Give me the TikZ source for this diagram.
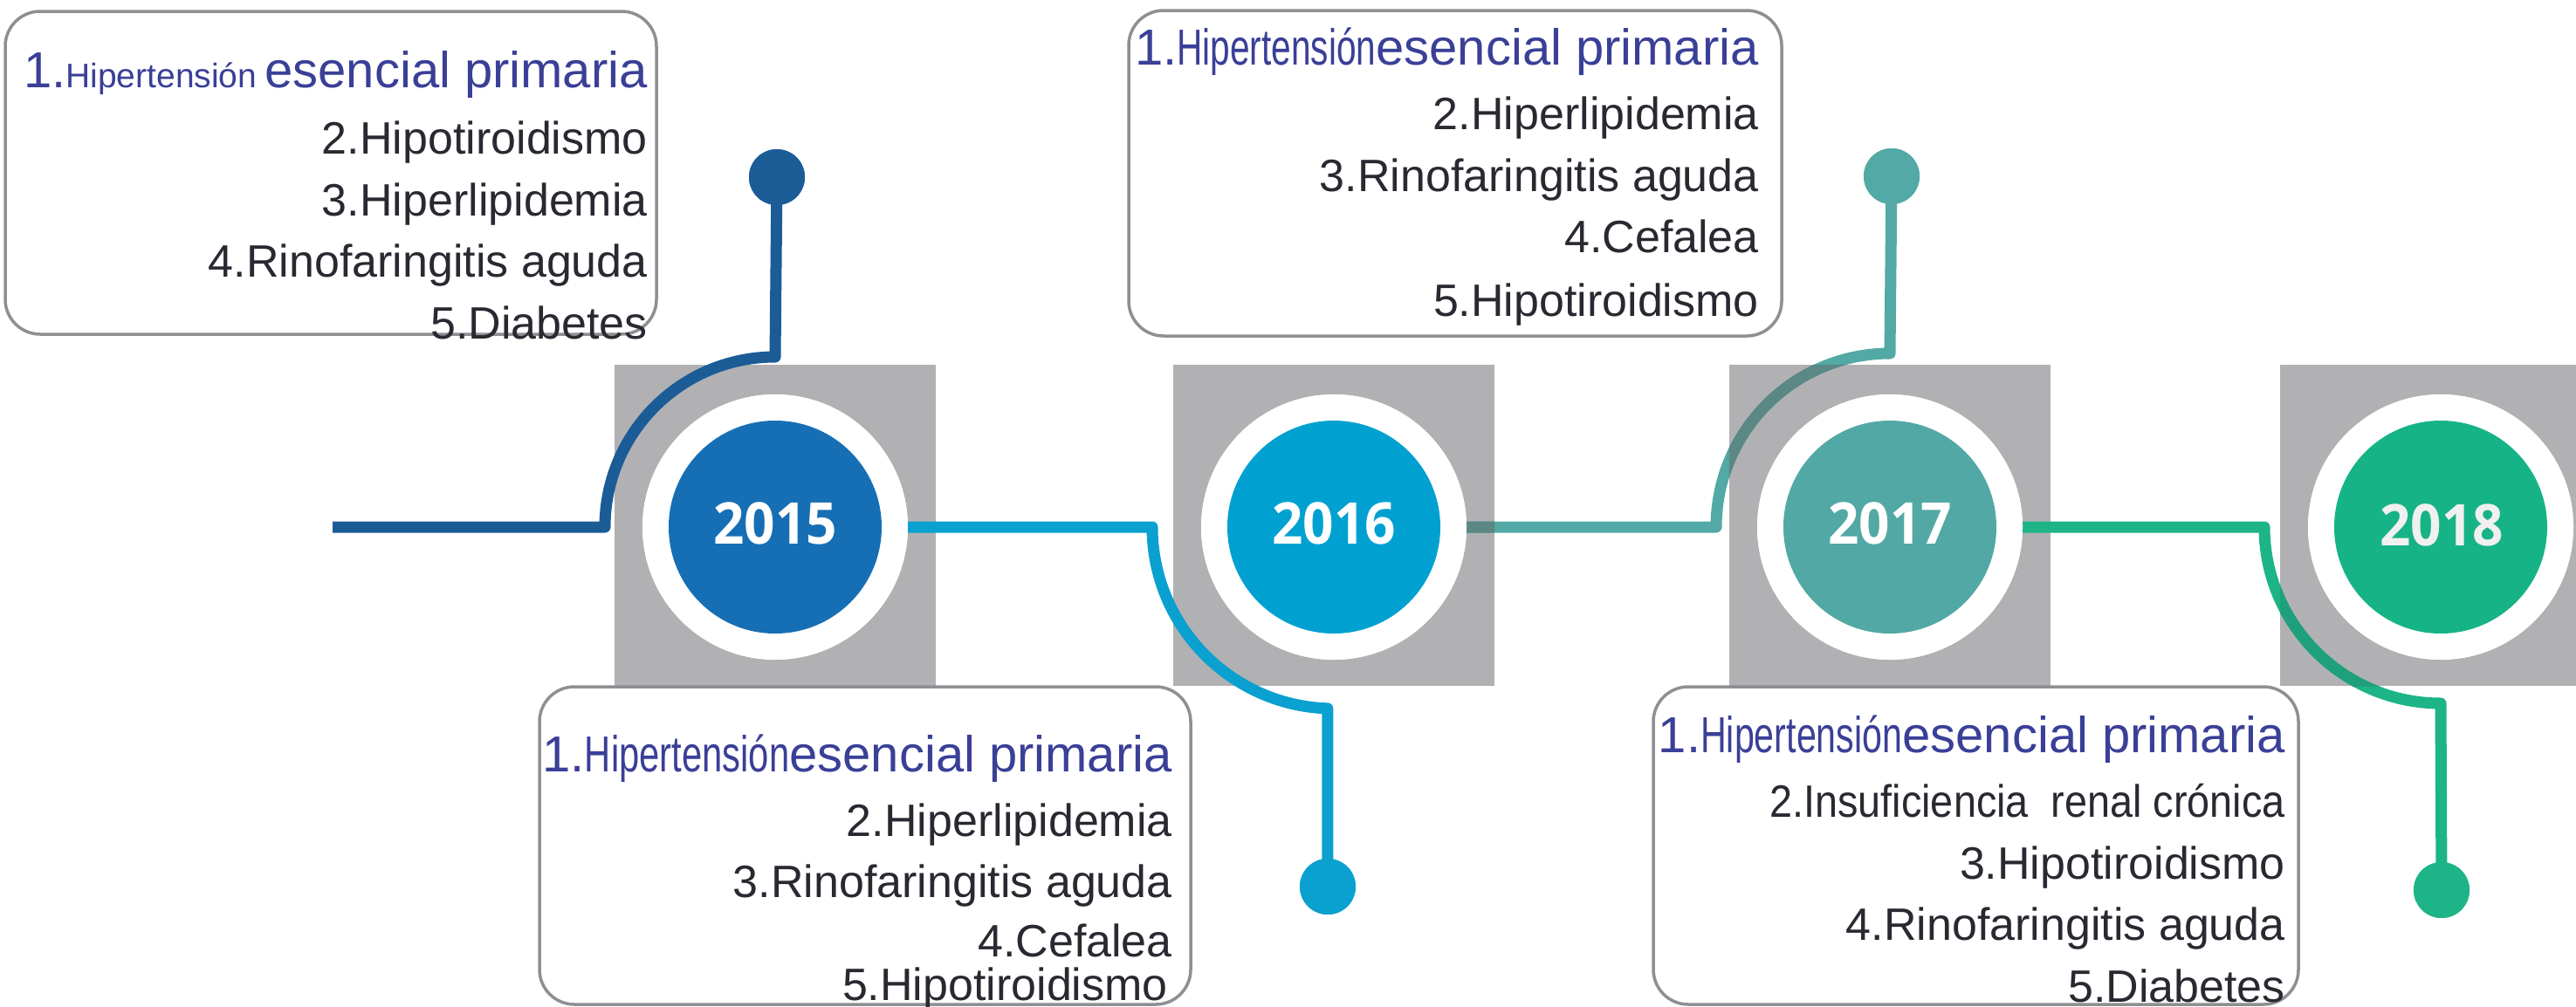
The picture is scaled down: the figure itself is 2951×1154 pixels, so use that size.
\documentclass[tikz,border=0pt]{standalone}
\usepackage{fontspec}
\setmainfont{Liberation Sans}
\newfontfamily\yearfont{Open Sans}
\usepackage{graphicx}
\usetikzlibrary{calc}
\definecolor{txtdark}{HTML}{2A2830}
\definecolor{txtblue}{HTML}{3A3F97}
\definecolor{boxgray}{HTML}{8F8F93}
\definecolor{sqgray}{HTML}{B1B1B3}
\definecolor{in15}{HTML}{166FB5}
\definecolor{in16}{HTML}{00A1D1}
\definecolor{in17}{HTML}{52A8A4}
\definecolor{in18}{HTML}{16B386}
\definecolor{con1}{HTML}{1B5C97}
\definecolor{con2}{HTML}{0AA0D0}
\definecolor{con3}{HTML}{53A9A5}
\definecolor{con3dark}{HTML}{5B8785}
\definecolor{con4}{HTML}{1DB487}
\definecolor{con4dark}{HTML}{1FA07D}
\begin{document}
\begin{tikzpicture}[x=1pt,y=-1pt,
  sq/.style={rectangle,fill=sqgray,draw=none,minimum size=368pt,inner sep=0pt},
  ring/.style={circle,fill=white,draw=none,minimum size=304pt,inner sep=0pt},
  inner/.style={circle,draw=none,minimum size=244pt,inner sep=0pt},
  yr/.style={anchor=base,inner sep=0pt,text=white,font=\yearfont\bfseries\fontsize{66}{66}\selectfont},
  dot/.style={circle,draw=none,minimum size=64pt,inner sep=0pt},
  con/.style={line width=13pt,line join=round},
  infobox/.style={rectangle,draw=boxgray,line width=3.5pt,rounded corners=40pt,fill=white,inner sep=0pt},
  txt/.style={anchor=base east,inner sep=0pt,text=txtdark,font=\fontsize{52}{52}\selectfont},
  txtb/.style={anchor=base east,inner sep=0pt,text=txtblue,font=\fontsize{58}{58}\selectfont}
]
\useasboundingbox (0,0) rectangle (2951,1154);
\clip (0,0) rectangle (2951,1154);

% grey squares
\node[sq] (sq15) at (888,602) {};
\node[sq] (sq16) at (1528,602) {};
\node[sq] (sq17) at (2165,602) {};
\node[sq] (sq18) at (2796,602) {};

% circle positions (for connectors)
\node[ring] (c15) at (888,604) {};
\node[ring] (c16) at (1528,604) {};
\node[ring] (c17) at (2165,604) {};
\node[ring] (c18) at (2796,604) {};

\coordinate (s0) at (381,604);
\node[dot,fill=con1] (d15) at (890,203) {};
\node[dot,fill=con2] (d16) at (1521,1016) {};
\node[dot,fill=con3] (d17) at (2167,202) {};
\node[dot,fill=con4] (d18) at (2797,1020) {};

% connectors
\draw[con,con1] (s0) -- ([xshift=-195pt]c15.center) arc[start angle=180,end angle=90,radius=195pt] -- (d15.center);
\draw[con,con2] (c15.east) -- ([xshift=-208pt]c16.center) arc[start angle=180,end angle=268,radius=208pt] -- (d16.center);
\draw[con,con3] (c16.east) -- ([xshift=-199pt]c17.center) arc[start angle=180,end angle=90,radius=199pt] -- (d17.center);
\begin{scope}
  \clip (sq16.south west) rectangle (sq16.north east) (sq17.south west) rectangle (sq17.north east);
  \draw[con,con3dark] (c16.east) -- ([xshift=-199pt]c17.center) arc[start angle=180,end angle=90,radius=199pt] -- (d17.center);
\end{scope}
\draw[con,con4] (c17.east) -- ([xshift=-202pt]c18.center) arc[start angle=180,end angle=270,radius=202pt] -- (d18.center);
\begin{scope}
  \clip (sq18.south west) rectangle (sq18.north east);
  \draw[con,con4dark] (c17.east) -- ([xshift=-202pt]c18.center) arc[start angle=180,end angle=270,radius=202pt] -- (d18.center);
\end{scope}

% redraw rings and inner discs on top
\node[ring] (r15) at (c15) {};
\node[ring] (r16) at (c16) {};
\node[ring] (r17) at (c17) {};
\node[ring] (r18) at (c18) {};
\node[inner,fill=in15] (i15) at (c15) {};
\node[inner,fill=in16] (i16) at (c16) {};
\node[inner,fill=in17] (i17) at (c17) {};
\node[inner,fill=in18] (i18) at (c18) {};
\node[yr] (y15) at (888,623) {\scalebox{0.94}[1]{2015}};
\node[yr] (y16) at (1528,623) {\scalebox{0.94}[1]{2016}};
\node[yr] (y17) at (2165,623) {\scalebox{0.94}[1]{2017}};
\node[yr,text=white!88!gray] (y18) at (2797,625) {\scalebox{0.94}[1]{2018}};

% dots on top
\node[dot,fill=con1] at (d15) {};
\node[dot,fill=con2] at (d16) {};
\node[dot,fill=con3] at (d17) {};
\node[dot,fill=con4] at (d18) {};

% info boxes
\node[infobox,minimum width=746pt,minimum height=370pt] (boxA) at (379,198) {};
\node[infobox,minimum width=748pt,minimum height=373pt] (boxC) at (1667,198.5) {};
\node[infobox,minimum width=746pt,minimum height=364pt] (boxB) at (991,969) {};
\node[infobox,minimum width=739pt,minimum height=364pt] (boxD) at (2263.5,969) {};

% box A text (2015, top)
\node[txtb] (a1) at (742,100) {1.{\fontsize{39}{39}\selectfont Hipertensión}\kern9pt esencial primaria};
\node[txt] (a2) at (742,176) {2.Hipotiroidismo};
\node[txt] (a3) at (742,247) {3.Hiperlipidemia};
\node[txt] (a4) at (742,317) {4.Rinofaringitis aguda};
\node[txt] (a5) at (742,388) {5.Diabetes};

% box B text (2016, bottom)
\node[txtb] (b1) at (1343,884) {1.\scalebox{0.72}[1]{Hipertensión}esencial primaria};
\node[txt] (b2) at (1343,958) {2.Hiperlipidemia};
\node[txt] (b3) at (1343,1028) {3.Rinofaringitis aguda};
\node[txt] (b4) at (1343,1096) {4.Cefalea};
\node[txt] (b5) at (1338,1146) {5.Hipotiroidismo};

% box C text (2017, top)
\node[txtb] (e1) at (2015,74) {1.\scalebox{0.70}[1]{Hipertensión}esencial primaria};
\node[txt] (e2) at (2015,148) {2.Hiperlipidemia};
\node[txt] (e3) at (2015,219) {3.Rinofaringitis aguda};
\node[txt] (e4) at (2015,289) {4.Cefalea};
\node[txt] (e5) at (2015,362) {5.Hipotiroidismo};

% box D text (2018, bottom)
\node[txtb] (f1) at (2618,862) {1.\scalebox{0.71}[1]{Hipertensión}esencial primaria};
\node[txt] (f2) at (2618,936) {\scalebox{0.9}[1]{2.Insuficiencia\ \ renal crónica}};
\node[txt] (f3) at (2618,1007) {3.Hipotiroidismo};
\node[txt] (f4) at (2618,1077) {4.Rinofaringitis aguda};
\node[txt] (f5) at (2618,1148) {5.Diabetes};
\end{tikzpicture}
\end{document}
